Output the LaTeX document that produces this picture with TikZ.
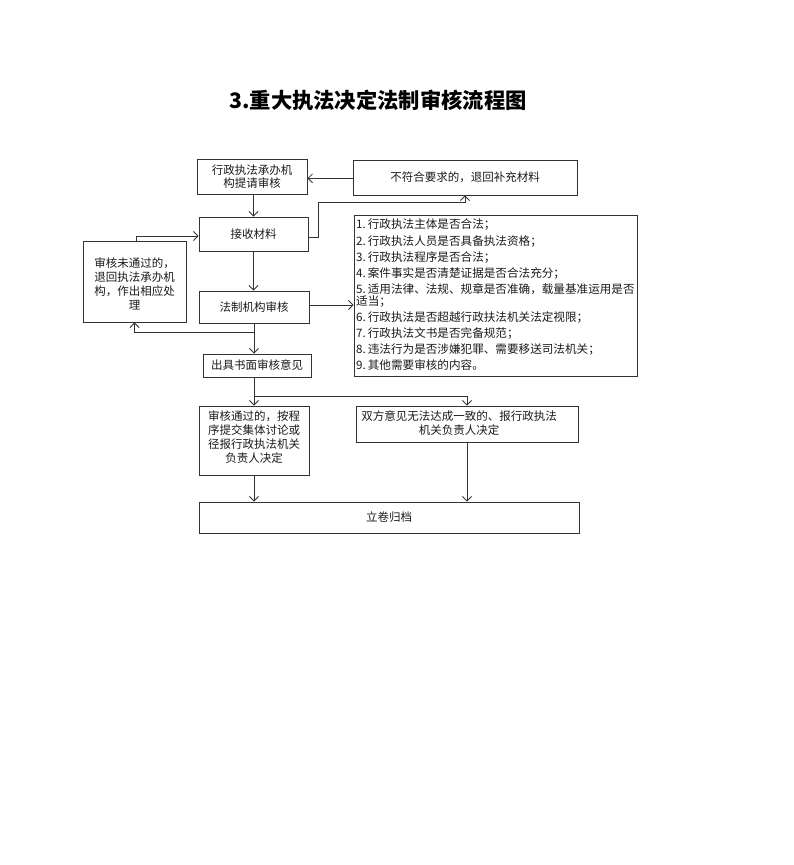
\documentclass[tikz,border=0pt]{standalone}
\usepackage{fontspec}
\setmainfont{Noto Sans CJK SC}
\usetikzlibrary{arrows.meta}
\definecolor{linec}{HTML}{333333}
\definecolor{textc}{HTML}{1A1A1A}
\newcommand{\numk}[1]{#1.\kern2pt}
\begin{document}
\begin{tikzpicture}[x=1pt,y=-1pt,
  box/.style={draw=linec, line width=0.9pt, inner sep=0pt, align=center, text=textc,
    font=\fontsize{11.5}{14}\selectfont},
  txt/.style={inner sep=0pt, align=center, text=textc, font=\fontsize{11.5}{14}\selectfont},
  item/.style={inner sep=0pt, anchor=west, text=textc, font=\fontsize{11.6}{14}\selectfont},
  arr/.style={draw=linec, line width=0.8pt, -{Straight Barb[length=4.5pt,width=9pt]}},
  ln/.style={draw=linec, line width=0.8pt}]
\useasboundingbox (0,0) rectangle (794,865);

% title
\node[inner sep=0pt, text=black, font=\fontsize{21.3}{24}\selectfont\bfseries] (title) at (378,100) {3.重大执法决定法制审核流程图};

% boxes
\node[box, minimum width=110pt, minimum height=35pt, font=\fontsize{11.5}{12.5}\selectfont] (A) at (252,176.5) {行政执法承办机\\构提请审核};
\node[box, minimum width=109pt, minimum height=34pt] (B) at (253.5,234) {接收材料};
\node[box, minimum width=103pt, minimum height=81pt] (L) at (134.5,281.5) {};
\node[txt] (Lt) at (134.5,284) {审核未通过的，\\退回执法承办机\\构，作出相应处\\理};
\node[box, minimum width=110pt, minimum height=32pt] (C) at (254,307) {法制机构审核};
\node[box, minimum width=108pt, minimum height=23pt] (D) at (257,365.5) {出具书面审核意见};
\node[box, minimum width=224pt, minimum height=35pt] (E) at (465,177.5) {不符合要求的，退回补充材料};
\node[box, minimum width=283pt, minimum height=161pt] (F) at (495.5,295.5) {};
\node[box, minimum width=110pt, minimum height=69pt] (G) at (254,440.5) {};
\node[txt] (Gt) at (254,437) {审核通过的，按程\\序提交集体讨论或\\径报行政执法机关\\负责人决定};
\node[box, minimum width=222pt, minimum height=36pt] (H) at (467,424) {};
\node[txt] (Ht) at (459,423) {双方意见无法达成一致的、报行政执法\\机关负责人决定};
\node[box, minimum width=380pt, minimum height=31pt] (I) at (389,517.5) {立卷归档};

% list items
\node[item] (l1) at (356,225) {\numk{1}行政执法主体是否合法；};
\node[item] (l2) at (356,241.7) {\numk{2}行政执法人员是否具备执法资格；};
\node[item] (l3) at (356,257.7) {\numk{3}行政执法程序是否合法；};
\node[item] (l4) at (356,273.3) {\numk{4}案件事实是否清楚证据是否合法充分；};
\node[item] (l5) at (356,289.5) {\numk{5}适用法律、法规、规章是否准确，载量基准运用是否};
\node[item] (l5b) at (356,301.7) {适当；};
\node[item] (l6) at (356,317.3) {\numk{6}行政执法是否超越行政扶法机关法定视限；};
\node[item] (l7) at (356,334) {\numk{7}行政执法文书是否完备规范；};
\node[item] (l8) at (356,350) {\numk{8}违法行为是否涉嫌犯罪、需要移送司法机关；};
\node[item] (l9) at (356,365) {\numk{9}其他需要审核的内容。};

% helper coordinates
\coordinate (yEA) at (0,178.3);
\coordinate (yBE) at (0,237.5);
\coordinate (k3) at (318,202.5);
\coordinate (k1) at (254,332.5);
\coordinate (k2) at (136,236);
\coordinate (yCF) at (0,305);
\coordinate (k4) at (0,396);

% connectors
\draw[arr] (B.north |- A.south) -- (B.north);
\draw[arr] (E.west |- yEA) -- (A.east |- yEA);
\draw[arr] (B.east |- yBE) -| (k3) -| (E.south);
\draw[arr] (B.south) -- (B.south |- C.north);
\draw[arr] (L.north -| k2) |- (B.west |- k2);
\draw[arr] (C.east |- yCF) -- (F.west |- yCF);
\draw[arr] (C.south) -- (C.south |- D.north);
\draw[arr] (k1) -| (L.south);
\draw[arr] (G.north |- D.south) -- (G.north);
\draw[arr] (G.north |- k4) -| (H.north);
\draw[arr] (G.south) -- (G.south |- I.north);
\draw[arr] (H.south) -- (H.south |- I.north);
\end{tikzpicture}
\end{document}
